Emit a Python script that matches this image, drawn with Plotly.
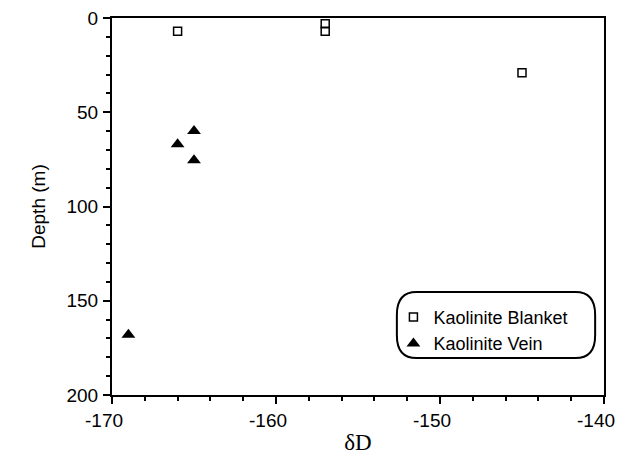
import plotly.graph_objects as go

# Data
blanket_dD = [-166, -157, -157, -145]
blanket_depth = [7, 3, 7, 29]
vein_dD = [-165, -166, -165, -169]
vein_depth = [60, 67, 75.5, 168]

x_ticks = [-170, -160, -150, -140]
x_ticktext = ["-170", "-160", "-150", "-140"]
y_ticks = [0, 50, 100, 150, 200]
y_ticktext = ["0", "50", "100", "150", "200"]

FONT = "Liberation Sans, Arial, sans-serif"

fig = go.Figure()
fig.add_trace(go.Scatter(
    x=blanket_dD, y=blanket_depth, mode="markers", name="Kaolinite Blanket",
    marker=dict(symbol="square-open", size=8, color="black", line=dict(width=1.5, color="black")),
))
fig.add_trace(go.Scatter(
    x=vein_dD, y=vein_depth, mode="markers", name="Kaolinite Vein",
    marker=dict(symbol="triangle-up", size=12, color="black"),
))

# rounded legend box (paper coords)
x0, x1, y0, y1 = 0.579, 0.982, 0.098, 0.273
rx, ry = 0.04, 0.06
path = (f"M {x0+rx},{y0} L {x1-rx},{y0} Q {x1},{y0} {x1},{y0+ry} "
        f"L {x1},{y1-ry} Q {x1},{y1} {x1-rx},{y1} L {x0+rx},{y1} "
        f"Q {x0},{y1} {x0},{y1-ry} L {x0},{y0+ry} Q {x0},{y0} {x0+rx},{y0} Z")
fig.add_shape(type="path", path=path, xref="paper", yref="paper",
              line=dict(color="black", width=2), fillcolor="rgba(0,0,0,0)")

axis_common = dict(
    showline=True, linecolor="black", linewidth=2, mirror=True,
    ticks="outside", ticklen=7, tickwidth=2, tickcolor="black",
    showgrid=False, zeroline=False, automargin=False,
    tickfont=dict(family=FONT, size=19, color="black"),
)

fig.update_layout(
    width=618, height=461,
    margin=dict(l=112, r=14, t=18, b=66),
    paper_bgcolor="white", plot_bgcolor="white",
    showlegend=True,
    legend=dict(x=0.572, y=0.255, xanchor="left", yanchor="top",
                bgcolor="rgba(0,0,0,0)", borderwidth=0,
                font=dict(family=FONT, size=18, color="black"),
                itemwidth=30, tracegroupgap=0),
    xaxis=dict(range=[-170, -140], tickvals=x_ticks, ticktext=x_ticktext,
               ticklabeloverflow="allow", ticklabelshift=-8,
               minor=dict(dtick=2, ticks="outside", ticklen=4, tickwidth=1.5, tickcolor="black"),
               title=dict(text="δD", font=dict(family="Liberation Serif, Times New Roman, serif", size=23, color="black"), standoff=4),
               **axis_common),
    yaxis=dict(range=[200, 0], tickvals=y_ticks, ticktext=y_ticktext,
               ticklabelstandoff=1,
               minor=dict(dtick=10, ticks="outside", ticklen=4, tickwidth=1.5, tickcolor="black"),
               title=dict(text="Depth (m)", font=dict(family=FONT, size=19, color="black"), standoff=16),
               **axis_common),
)

fig.write_html("out.html")
